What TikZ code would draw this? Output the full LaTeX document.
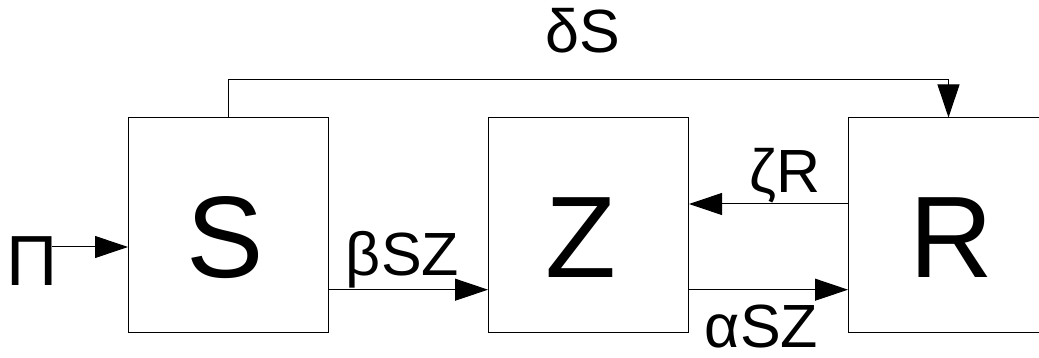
\documentclass[tikz,border=0pt]{standalone}
\usepackage{fontspec}
\setmainfont{Liberation Sans}
\usetikzlibrary{arrows.meta}
\tikzset{
  block/.style={draw=black, line width=1pt, minimum width=200pt, minimum height=214pt, inner sep=0pt},
  bigletter/.style={font=\fontsize{116}{116}\selectfont, inner sep=0pt, anchor=base},
  flowlabel/.style={font=\fontsize{61}{61}\selectfont, inner sep=0pt, anchor=base},
  flow/.style={line width=1pt, -{Triangle[length=33pt,width=22pt]}}
}
\begin{document}
\begin{tikzpicture}[x=1pt, y=-1pt]
  \useasboundingbox (0,0) rectangle (1039,358);
  \clip (0,0) rectangle (1039,358);

  % compartments
  \node[block] (S) at (228.5,225) {};
  \node[block] (Z) at (588.5,225) {};
  \node[block] (R) at (948.5,225) {};

  \node[bigletter] (Sl) at (225,277) {S};
  \node[bigletter] (Zl) at (580.5,277) {Z};
  \node[bigletter] (Rl) at (951,277) {R};

  % inflow
  \node[flowlabel, font=\fontsize{71}{71}\selectfont] (Pi) at (32,285) {Π};
  \coordinate (pin) at (52,247);
  \draw[flow] (pin) -- (pin -| S.west);

  % transfers
  \draw[flow] (S.east |- 0,289.7) -- (Z.west |- 0,289.7);
  \node[flowlabel] (beta) at (402.5,276) {βSZ};

  \draw[flow] (Z.east |- 0,289.7) -- (R.west |- 0,289.7);
  \node[flowlabel] (alpha) at (761.5,347) {αSZ};

  \draw[flow] (R.west |- 0,204) -- (Z.east |- 0,204);
  \node[flowlabel] (zeta) at (785,193) {ζR};

  \draw[flow] (S.north) -- ++(0,-38) -| (R.north);
  \node[flowlabel] (delta) at (582.5,53) {δS};
\end{tikzpicture}
\end{document}
